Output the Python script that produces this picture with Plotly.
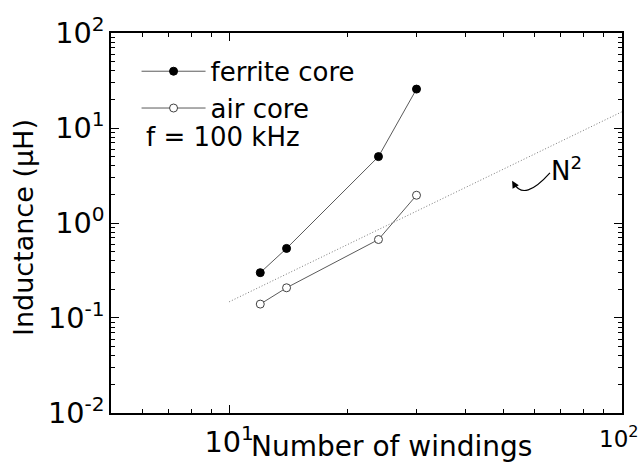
import math
import plotly.graph_objects as go

# ---- data ----
ferrite_N = [12, 14, 24, 30]
ferrite_L = [0.30, 0.54, 5.0, 25.7]
air_N = [12, 14, 24, 30]
air_L = [0.140, 0.208, 0.67, 1.96]
n2_N = [10, 100]
n2_L = [0.148, 14.8]

# tick labels: plotly's default decade label -> label shown in the reference
x_tick_labels = {"10": "10<sup>1</sup>", "10<sup>2</sup>": "10<sup>2</sup>"}
x_end_label = "10<sup>2</sup>"
y_tick_labels = {
    "10<sup>\u22122</sup>": "10<sup>-2</sup>",
    "10<sup>\u22121</sup>": "10<sup>-1</sup>",
    "1": "10<sup>0</sup>",
    "10": "10<sup>1</sup>",
    "10<sup>2</sup>": "10<sup>2</sup>",
}

FONT = "DejaVu Sans, Arial, sans-serif"
XR = [math.log10(5), 2.0005]
YR = [-2.0005, 2.0005]

fig = go.Figure()
fig.add_trace(go.Scatter(
    x=n2_N, y=n2_L, mode="lines", showlegend=False,
    line=dict(color="#7a7a7a", width=1, dash="1px,2px"), hoverinfo="skip"))
fig.add_trace(go.Scatter(
    x=ferrite_N, y=ferrite_L, mode="lines+markers", name="ferrite core",
    line=dict(color="#5a5a5a", width=1),
    marker=dict(symbol="circle", size=8, color="black", line=dict(color="black", width=1))))
fig.add_trace(go.Scatter(
    x=air_N, y=air_L, mode="lines+markers", name="air core",
    line=dict(color="#5a5a5a", width=1),
    marker=dict(symbol="circle", size=8, color="white", line=dict(color="#404040", width=1))))

axis_common = dict(
    type="log", showgrid=False, zeroline=False, showline=True, linecolor="black", linewidth=1.5,
    mirror="allticks", ticks="inside", ticklen=8, tickwidth=1, tickcolor="black",
    tickmode="linear", tick0=0, dtick=1, exponentformat="power", showexponent="all",
    minor=dict(ticks="inside", ticklen=4, tickcolor="black", dtick="D1", showgrid=False),
    tickfont=dict(family=FONT, size=23, color="black"),
)

fig.update_layout(
    width=644, height=472,
    margin=dict(l=111, r=22, t=27, b=59),
    paper_bgcolor="white", plot_bgcolor="white",
    font=dict(family=FONT, color="black"),
    xaxis=dict(**axis_common, range=XR, labelalias=x_tick_labels, ticklabelstandoff=4),
    yaxis=dict(**axis_common, range=YR, labelalias=y_tick_labels),
    legend=dict(x=0.05, y=0.961, xanchor="left", yanchor="top", bgcolor="rgba(0,0,0,0)",
                font=dict(family=FONT, size=26, color="black"), itemwidth=64,
                tracegroupgap=0),
    showlegend=True,
)

# end-of-axis decade label (plotly hides it past the page edge)
fig.add_annotation(text=x_end_label, xref="paper", yref="paper", x=1.037, y=-0.062,
                   xanchor="right", yanchor="middle", showarrow=False,
                   font=dict(family=FONT, size=23, color="black"))
fig.add_annotation(text="f = 100 kHz", xref="paper", yref="paper", x=0.064, y=0.727,
                   xanchor="left", yanchor="middle", showarrow=False,
                   font=dict(family=FONT, size=26, color="black"))
fig.add_annotation(text="N<sup>2</sup>", xref="paper", yref="paper", x=0.857, y=0.642,
                   xanchor="left", yanchor="middle", showarrow=False,
                   font=dict(family=FONT, size=26, color="black"))
fig.add_annotation(text="Number of windings", xref="paper", yref="paper", x=0.548, y=-0.04,
                   xanchor="center", yanchor="top", showarrow=False,
                   font=dict(family=FONT, size=28, color="black"))
fig.add_annotation(text="Inductance (μH)", xref="paper", yref="paper", x=-0.17, y=0.487,
                   xanchor="center", yanchor="middle", textangle=-90, showarrow=False,
                   font=dict(family=FONT, size=27, color="black"))

# curved arrow pointing to the N^2 line
fig.add_shape(type="path", xref="paper", yref="paper",
              path="M 0.859 0.632 Q 0.809 0.557 0.789 0.603",
              line=dict(color="black", width=1.2))
fig.add_annotation(text="", xref="paper", yref="paper", x=0.785, y=0.611,
                   ax=4, ay=7, showarrow=True, arrowhead=2, arrowsize=1.2,
                   arrowwidth=1.2, arrowcolor="black")

fig.write_html("out.html")
